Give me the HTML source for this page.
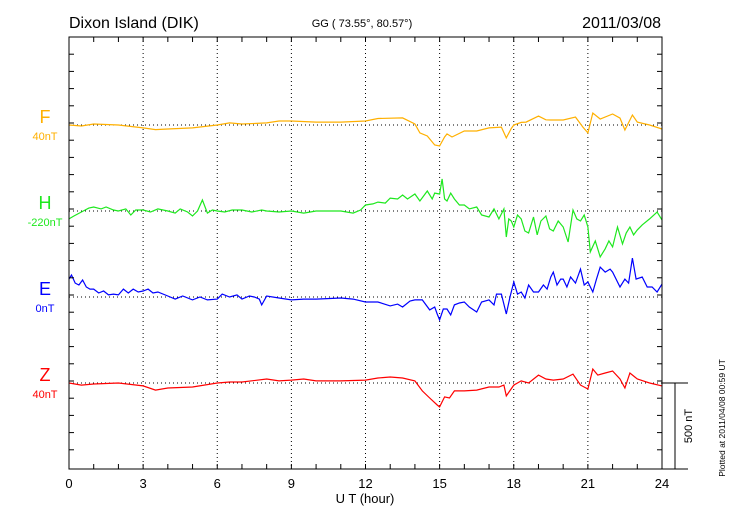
<!DOCTYPE html>
<html><head><meta charset="utf-8"><style>
html,body{margin:0;padding:0;background:#fff;}
svg{display:block;font-family:"Liberation Sans",sans-serif;}
</style></head><body>
<svg id="chart" width="730" height="520" viewBox="0 0 730 520">
<text x="69" y="28" font-size="16">Dixon Island (DIK)</text>
<text x="362" y="27" font-size="11" text-anchor="middle">GG ( 73.55°,  80.57°)</text>
<text x="661" y="28" font-size="16" text-anchor="end">2011/03/08</text>
<text x="365" y="503" font-size="13" text-anchor="middle">U T (hour)</text>
<text transform="translate(725,418) rotate(-90)" font-size="8.5" text-anchor="middle">Plotted at 2011/04/08 00:59 UT</text>
<text transform="translate(692,426) rotate(-90)" font-size="11" text-anchor="middle">500 nT</text>
<g id="grid"></g>
<g id="series"></g>
<rect x="69" y="37" width="593" height="432" fill="none" stroke="#000" stroke-width="1"/>
<g id="axes"></g>
</svg>
<script>
const xTicks = [0,3,6,9,12,15,18,21,24];
const fT = [0,0.5,1,2,3,3.5,4,5,6,6.5,7,8,8.5,9,10,11,12,12.5,13.5,14,14.2,14.5,14.8,15,15.2,15.3,15.5,16,16.5,17,17.5,17.7,17.9,18,18.3,18.5,19,19.3,19.5,20,20.5,20.8,21,21.2,21.5,22,22.3,22.5,22.8,23,23.5,24];
const fV = [0,-6,6,0,-17,-27,-23,-17,0,12,6,12,23,23,17,17,23,38,41,6,-46,-64,-116,-122,-70,-52,-70,-35,-35,-17,-12,-75,-20,0,15,17,52,30,29,29,46,-12,-46,70,35,64,40,-29,58,17,0,-23];
const hT = [0,0.2,0.5,0.8,1,1.3,1.5,1.8,2,2.3,2.5,2.7,3,3.3,3.6,4,4.3,4.5,4.8,5,5.2,5.4,5.6,5.8,6,6.3,6.6,7,7.4,7.8,8,8.5,9,9.5,10,10.5,11,11.5,11.8,12,12.3,12.5,12.8,13,13.3,13.5,13.7,14,14.2,14.5,14.7,14.8,15,15.1,15.2,15.3,15.45,15.6,15.8,16,16.2,16.5,16.7,17,17.2,17.4,17.6,17.7,17.8,17.9,18,18.15,18.3,18.45,18.6,18.8,18.95,19.1,19.3,19.45,19.6,19.8,20,20.2,20.4,20.55,20.7,20.85,21,21.1,21.3,21.5,21.7,21.85,22,22.2,22.4,22.55,22.7,22.85,23,23.2,23.5,23.8,24];
const hV = [-46,-29,-6,17,23,12,23,6,0,12,-23,6,6,-6,12,0,-12,12,-6,-29,0,64,-12,6,0,-6,6,6,-6,6,0,-6,0,-12,0,0,0,-12,6,35,41,52,46,75,70,93,70,99,58,116,70,104,99,186,70,58,104,70,35,35,12,23,-23,-35,12,-46,12,-151,-46,-58,-93,-23,-46,-116,-128,-35,-139,-58,-29,-104,-116,-58,-93,-180,6,-46,-58,-23,-93,-238,-174,-267,-220,-174,-209,-93,-191,-128,-93,-139,-110,-81,-46,-6,-52];
const eT = [0,0.1,0.25,0.4,0.55,0.7,0.85,1,1.2,1.4,1.6,1.8,2,2.2,2.4,2.6,2.8,3,3.2,3.4,3.6,4,4.3,4.6,5,5.3,5.6,6,6.2,6.5,6.8,7,7.3,7.5,7.7,7.8,8,8.5,9,9.5,10,11,11.5,12,12.5,13,13.3,13.5,13.8,14,14.3,14.6,14.8,14.9,15,15.15,15.3,15.45,15.6,15.8,16,16.2,16.5,16.7,17,17.2,17.3,17.5,17.7,17.85,18,18.15,18.3,18.45,18.6,18.8,19,19.2,19.35,19.5,19.6,19.75,19.9,20,20.15,20.3,20.5,20.7,20.85,21,21.2,21.35,21.5,21.7,21.9,22,22.3,22.5,22.65,22.8,22.95,23.2,23.4,23.6,23.8,24];
const eV = [104,128,81,70,99,58,46,46,23,35,12,17,12,46,23,46,29,35,46,23,29,6,-12,6,-17,0,-17,-12,17,0,12,-12,6,0,-12,-46,6,-6,-17,-12,-12,-6,-12,-29,-29,-52,-41,-58,-23,-17,-17,-75,-58,-99,-133,-70,-70,-104,-46,-35,-29,-58,-87,-29,-17,-46,17,17,-99,0,87,17,29,-6,70,29,29,70,46,116,145,70,104,104,58,116,81,162,70,87,29,104,174,145,162,145,58,104,81,226,104,116,58,58,29,75];
const zT = [0,0.5,1,2,3,3.5,4,5,6,6.5,7,8,8.5,9,9.5,10,11,12,12.5,13,13.5,14,14.3,14.6,14.9,15,15.2,15.4,15.6,16,16.5,17,17.4,17.6,17.7,18,18.3,18.6,19,19.3,19.6,20,20.4,20.7,21,21.2,21.4,21.7,22,22.3,22.5,22.7,23,23.5,24];
const zV = [0,-12,-6,0,-17,-41,-29,-23,0,6,6,23,12,17,23,12,12,17,29,35,29,12,-46,-87,-128,-139,-81,-87,-46,-46,-41,-23,-23,-12,-75,-12,12,0,46,23,17,23,52,-12,-35,81,46,58,70,23,-29,58,23,0,-17];
const baseLabels = ["40nT","-220nT","0nT","40nT"];
const compNames = ["F","H","E","Z"];

const NS="http://www.w3.org/2000/svg";
const X0=69,X1=662,Y0=37,Y1=469;
const PX_PER_NT=86/500;
const baselines=[125,211,297,383];
const colors=["#ffb000","#1ee81e","#0000ff","#ff0000"];
function xs(h){return X0+(X1-X0)*h/24;}
function ys(i,v){return baselines[i]-v*PX_PER_NT;}
function mk(tag,attrs,parent){const e=document.createElementNS(NS,tag);for(const k in attrs)e.setAttribute(k,attrs[k]);parent.appendChild(e);return e;}
const grid=document.getElementById('grid'),axes=document.getElementById('axes'),ser=document.getElementById('series'),svg=document.getElementById('chart');

xTicks.forEach(h=>{
  if(h>0&&h<24){const l=mk('line',{x1:xs(h),x2:xs(h),y1:Y0,y2:Y1,stroke:'#000','stroke-width':1,'stroke-dasharray':'1,3'},grid);
  
  }
  const t=mk('text',{x:xs(h),y:488,'font-size':13,'text-anchor':'middle'},axes);t.textContent=h;
  
  
});
for(let h=1;h<24;h++){
  mk('line',{x1:xs(h),x2:xs(h),y1:Y0,y2:Y0+5,stroke:'#000'},axes);
  mk('line',{x1:xs(h),x2:xs(h),y1:Y1,y2:Y1-5,stroke:'#000'},axes);
}
for(let k=1;k<25;k++){const y=Y0+k*17.2; if(y>=Y1)break;
  mk('line',{x1:X0,x2:X0+5,y1:y,y2:y,stroke:'#000'},axes);
  mk('line',{x1:X1,x2:X1-5,y1:y,y2:y,stroke:'#000'},axes);
}
baselines.forEach((b,i)=>{
  const l=mk('line',{x1:X0,x2:X1,y1:b,y2:b,stroke:'#000','stroke-dasharray':'1,3'},grid);
  
  
  const t=mk('text',{x:45,y:b-2,'font-size':18,'text-anchor':'middle',fill:colors[i]},svg);t.textContent=compNames[i];
  
  
  const s=mk('text',{x:45,y:b+15,'font-size':11,'text-anchor':'middle',fill:colors[i]},svg);s.textContent=baseLabels[i];
  
  
});
[[fT,fV],[hT,hV],[eT,eV],[zT,zV]].forEach((d,i)=>{
  const pts=d[0].map((t,j)=>xs(t).toFixed(1)+','+ys(i,d[1][j]).toFixed(1)).join(' ');
  const p=mk('polyline',{points:pts,fill:'none',stroke:colors[i],'stroke-width':1.2},ser);
  
  
});
// scale bar
const sb1=mk('line',{x1:X1,x2:688,y1:383,y2:383,stroke:'#000'},axes);


const sb2=mk('line',{x1:675,x2:675,y1:383,y2:469,stroke:'#000'},axes);


const sb3=mk('line',{x1:X1,x2:688,y1:469,y2:469,stroke:'#000'},axes);


</script>
</body></html>
